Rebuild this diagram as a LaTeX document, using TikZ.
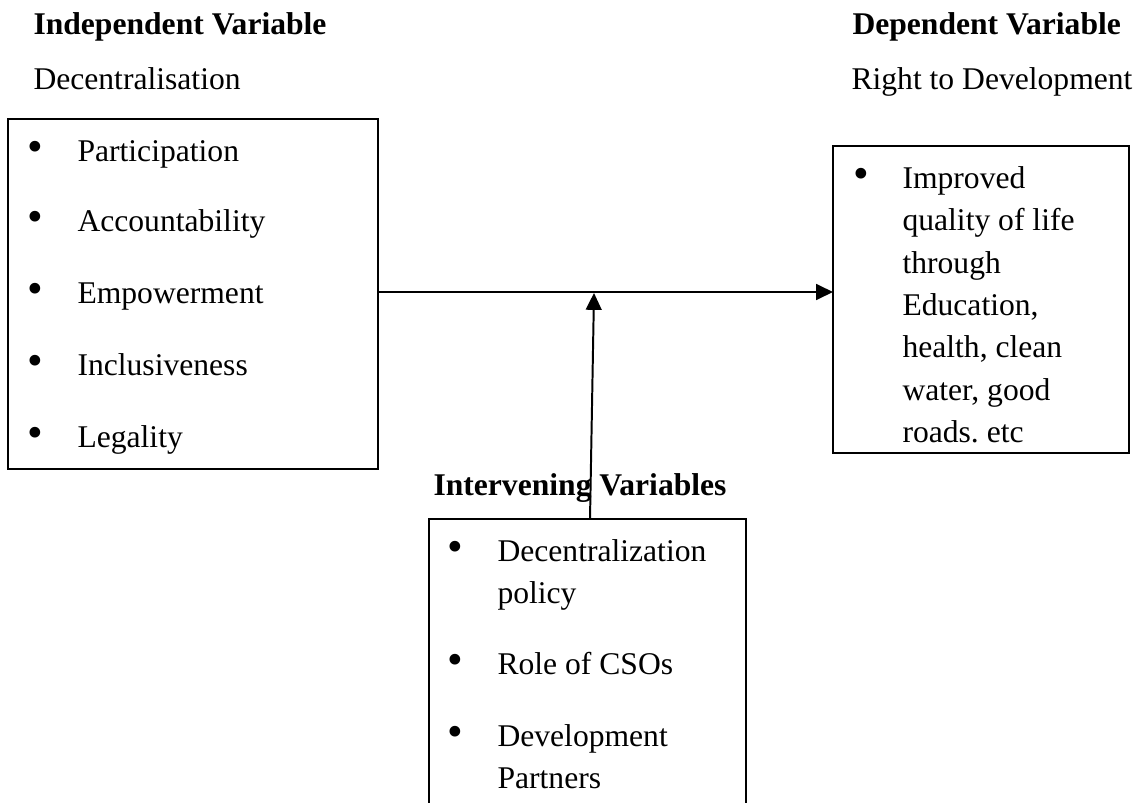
\documentclass[tikz,border=0pt]{standalone}
\usepackage{fontspec}
\setmainfont{Liberation Serif}
\usetikzlibrary{arrows.meta,fit}
\begin{document}
\begin{tikzpicture}[x=0.3797pt, y=-0.3797pt,
  box/.style={draw, line width=0.75pt, inner sep=0pt, outer sep=0pt},
  txt/.style={anchor=base west, inner sep=0pt, font=\fontsize{12pt}{14pt}\selectfont},
  hd/.style={anchor=base west, inner sep=0pt, font=\fontsize{12pt}{14pt}\selectfont\bfseries},
  bul/.style={anchor=center, inner sep=0pt, font=\fontsize{17pt}{17pt}\selectfont},
  arr/.style={line width=0.75pt, -{Triangle[length=6.4pt,width=6pt]}}]
\useasboundingbox (0,0) rectangle (1139,802);

% headers
\node[hd]  (h1) at (33,35)  {Independent Variable};
\node[txt] (s1) at (33,90)  {Decentralisation};
\node[hd]  (h2) at (852,35) {Dependent Variable};
\node[txt] (s2) at (851,90) {Right to Development};
\node[hd]  (h3) at (433,495) {Intervening Variables};

% boxes
\node[box, fit={(8,119) (378,469)}] (lbox) {};
\node[box, fit={(833,146) (1129,453)}] (rbox) {};
\node[inner sep=0pt, outer sep=0pt, fit={(429,519) (746,806)}] (ibox) {};
\draw[line width=0.75pt] (ibox.south west) -- (ibox.north west) -- (ibox.north east) -- (ibox.south east);

% left items
\node[bul] (lb1) at (35,151) {•};
\node[txt] (l1) at (77,161) {Participation};
\node[bul] (lb2) at (35,221) {•};
\node[txt] (l2) at (77,231) {Accountability};
\node[bul] (lb3) at (35,293) {•};
\node[txt] (l3) at (77,303) {Empowerment};
\node[bul] (lb4) at (35,365) {•};
\node[txt] (l4) at (77,375) {Inclusiveness};
\node[bul] (lb5) at (35,437) {•};
\node[txt] (l5) at (77,447) {Legality};

% right items
\node[bul] (rb1) at (861,178) {•};
\node[txt] (r1) at (902,188) {Improved};
\node[txt] (r2) at (902,230.5) {quality of life};
\node[txt] (r3) at (902,273) {through};
\node[txt] (r4) at (902,315) {Education,};
\node[txt] (r5) at (902,357) {health, clean};
\node[txt] (r6) at (902,400) {water, good};
\node[txt] (r7) at (902,442) {roads.\ etc};

% intervening items
\node[bul] (ib1) at (455,551) {•};
\node[txt] (i1) at (497,561) {Decentralization};
\node[txt] (i2) at (497,603) {policy};
\node[bul] (ib2) at (455,664.5) {•};
\node[txt] (i3) at (497,674.5) {Role of CSOs};
\node[bul] (ib3) at (455,736) {•};
\node[txt] (i4) at (497,746) {Development};
\node[txt] (i5) at (497,788) {Partners};

% connectors
\coordinate (ay) at (0,292);
\coordinate (vb) at (590,0);
\coordinate (tip) at (594,293);
\draw[arr] (lbox.east |- ay) -- (rbox.west |- ay);
\draw[arr] (ibox.north -| vb) -- (tip);
\end{tikzpicture}
\end{document}
